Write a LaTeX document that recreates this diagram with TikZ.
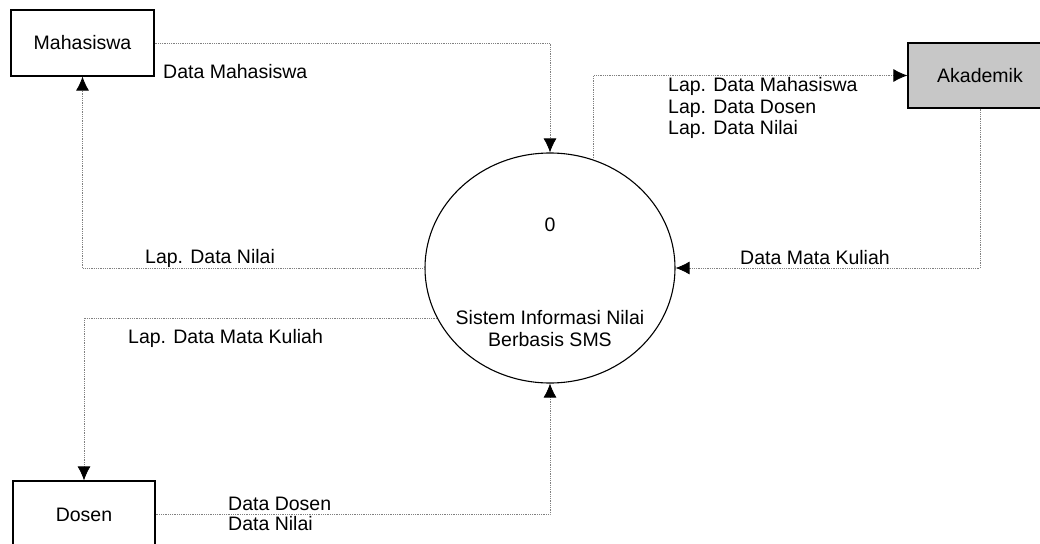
\documentclass[tikz,border=0pt]{standalone}
\usepackage{fontspec}
\setmainfont{Liberation Sans}
\usetikzlibrary{arrows.meta,shapes.geometric}

\begin{document}
\begin{tikzpicture}[x=1pt,y=-1pt,
    every node/.style={font=\fontsize{19.5}{21.5}\selectfont, inner sep=0pt},
    entity/.style={draw, line width=1.2pt, minimum width=143pt, minimum height=66pt},
    flow/.style={densely dotted, line width=0.8pt, black!50, -{Latex[length=14pt,width=13pt,color=black]}},
    lbl/.style={anchor=west, align=left}]
    \clip (0,0) rectangle (1040,543);
\node[entity, fill=white] (mhs) at (82.5,43) {Mahasiswa}; % Mahasiswa
\node[entity, fill=black!22, minimum width=144pt, minimum height=65pt] (akd) at (980,75.5) {Akademik}; % Akademik
\node[entity, fill=white, minimum width=142pt, minimum height=67pt] (dsn) at (84,514.5) {Dosen}; % Dosen
\node[draw, ellipse, line width=1.1pt, minimum width=250pt, minimum height=230pt] (proc) at (550,268) {}; % Proses 0
\node (procnum) at (550,225) {0}; % Proses 0
\node[align=center, font=\fontsize{19.5}{22}\selectfont] (procname) at (550,329) {Sistem Informasi Nilai\\Berbasis SMS}; % Proses 0
\draw[flow] (mhs.east) -| (proc.north) ; % mhs -> proc
\draw[flow] (proc.68) |- (akd.west) ; % proc -> akd
\draw[flow] (akd.south) |- (proc.east) ; % akd -> proc
\draw[flow] (proc.west) -| (mhs.south) ; % proc -> mhs
\draw[flow] (proc.204) -| (dsn.north) ; % proc -> dsn
\draw[flow] (dsn.east) -| (proc.south) ; % dsn -> proc
\node[lbl] (lblMhs) at (163,72) {Data Mahasiswa}; % mhs -> proc
\node[lbl] (lblLap) at (668,108) {Lap. Data Mahasiswa\\Lap. Data Dosen\\Lap. Data Nilai}; % proc -> akd
\node[lbl] (lblMk) at (740,258) {Data Mata Kuliah}; % akd -> proc
\node[lbl] (lblNilai) at (145,258) {Lap. Data Nilai}; % proc -> mhs
\node[lbl] (lblLapMk) at (128,338) {Lap. Data Mata Kuliah}; % proc -> dsn
\node[lbl, font=\fontsize{19.5}{19.5}\selectfont] (lblDsn) at (228,514) {Data Dosen\\Data Nilai}; % dsn -> proc
    \end{tikzpicture}
\end{document}
